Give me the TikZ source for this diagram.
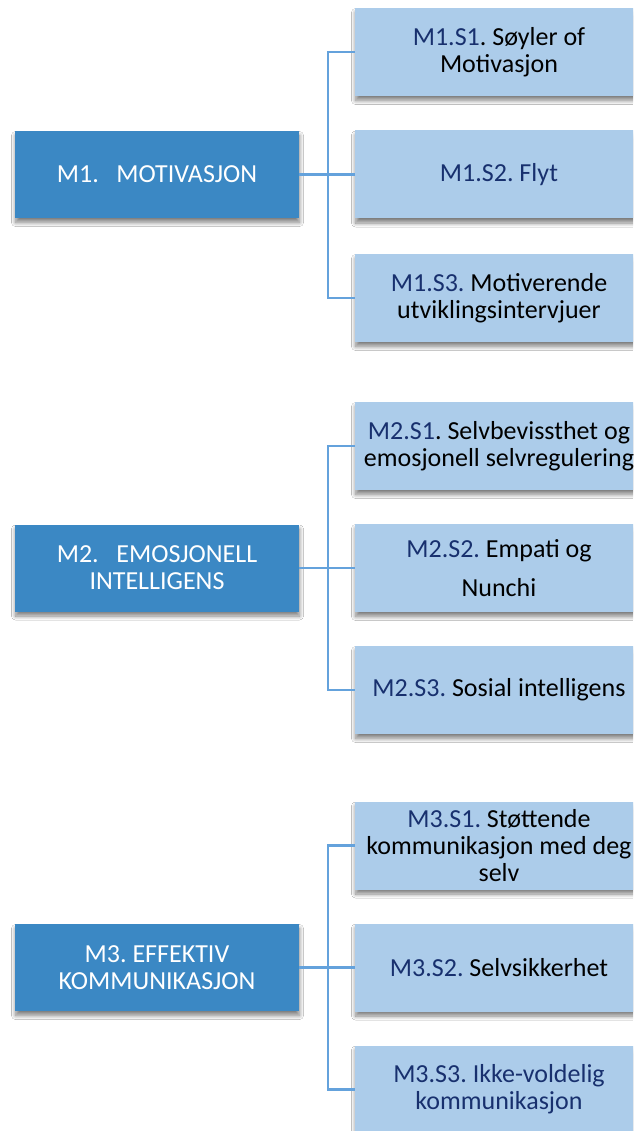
\documentclass[tikz,border=0pt]{standalone}
\usepackage{fontspec}
\setmainfont{Carlito}
\usetikzlibrary{shadows.blur}
\definecolor{parentfill}{RGB}{59,136,196}
\definecolor{childfill}{RGB}{172,204,234}
\definecolor{linkblue}{RGB}{100,162,220}
\definecolor{darktext}{RGB}{24,48,110}
\newcommand{\dk}[1]{\textcolor{darktext}{#1}}
\frenchspacing
\tikzset{
  boxshadow/.style={blur shadow={shadow xshift=0.5pt, shadow yshift=-4.5pt, shadow blur steps=12, shadow blur radius=4pt, shadow opacity=50}},
  parentbox/.style={boxshadow, fill=parentfill, text=white, minimum width=284pt, minimum height=87pt,
    inner sep=0pt, align=center, font=\fontsize{26}{27}\selectfont},
  childbox/.style={boxshadow, fill=childfill, text=black, minimum width=288pt, minimum height=88pt,
    inner sep=0pt, align=center, font=\fontsize{26}{27}\selectfont},
  link/.style={draw=linkblue, line width=2.5pt}
}
\begin{document}
\begin{tikzpicture}[x=1pt,y=1pt]
\useasboundingbox (0,0) rectangle (633,-1131);
\clip (0,0) rectangle (633,-1131);
\fill[white] (0,0) rectangle (633,-1131);

% Group 1
\node[childbox] (m1s1) at (499,-52) {\dk{M1.S1}. Søyler of\\Motivasjon};
\node[childbox] (m1s2) at (499,-174.5) {\dk{M1.S2. Flyt}};
\node[childbox] (m1s3) at (499,-298) {\dk{M1.S3.} Motiverende\\utviklingsintervjuer};
\node[parentbox] (m1) at (157,-174.5) {M1.\ \ \ MOTIVASJON};
\draw[link] (m1.east) -- (m1s2.west);
\draw[link] (m1s1.west) -- ++(-27,0) |- (m1s3.west);

% Group 2
\node[childbox] (m2s1) at (499,-446) {\dk{M2.S1}. Selvbevissthet og\\emosjonell selvregulering};
\node[childbox] (m2s2) at (499,-568) {\dk{M2.S2.} Empati og\\[12pt]Nunchi};
\node[childbox] (m2s3) at (499,-690) {\dk{M2.S3.} Sosial intelligens};
\node[parentbox] (m2) at (157,-568) {M2.\ \ \ EMOSJONELL\\INTELLIGENS};
\draw[link] (m2.east) -- (m2s2.west);
\draw[link] (m2s1.west) -- ++(-27,0) |- (m2s3.west);

% Group 3
\node[childbox] (m3s1) at (499,-845.5) {\dk{M3.S1.} Støttende\\kommunikasjon med deg\\selv};
\node[childbox] (m3s2) at (499,-967.5) {\dk{M3.S2.} Selvsikkerhet};
\node[childbox] (m3s3) at (499,-1089.5) {\dk{M3.S3. Ikke-voldelig}\\\dk{kommunikasjon}};
\node[parentbox] (m3) at (157,-967.5) {M3. EFFEKTIV\\KOMMUNIKASJON};
\draw[link] (m3.east) -- (m3s2.west);
\draw[link] (m3s1.west) -- ++(-27,0) |- (m3s3.west);
\end{tikzpicture}
\end{document}
